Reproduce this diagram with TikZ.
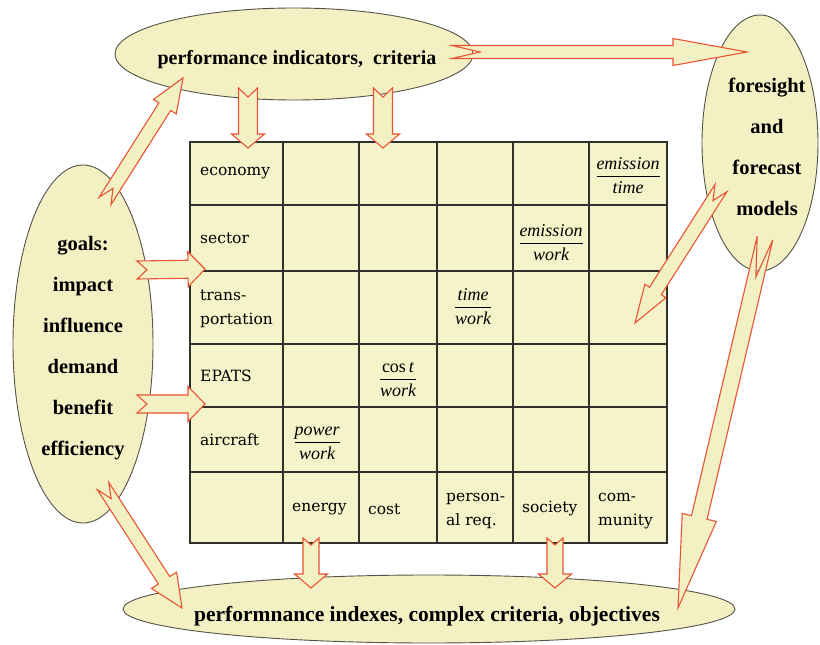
\documentclass[tikz,border=0pt]{standalone}
\usepackage{fontspec}
\setmainfont{Liberation Serif}[Ligatures=TeX]
\newfontfamily\gridfont{DejaVu Serif}
\usetikzlibrary{shapes.geometric,calc}
\definecolor{fillyel}{RGB}{243,241,196}
\definecolor{gridyel}{RGB}{245,243,202}
\definecolor{arrowred}{RGB}{232,84,52}
\definecolor{ellline}{RGB}{85,82,70}
\definecolor{gridline}{RGB}{50,48,42}
\tikzset{
  oval/.style={ellipse, draw=ellline, line width=0.9pt, fill=fillyel, inner sep=0pt},
  bigtext/.style={font=\fontsize{20}{41}\selectfont\rmfamily\bfseries, align=center, inner sep=0pt},
  celltext/.style={font=\gridfont\fontsize{15.5}{24}\selectfont, align=left, anchor=west, inner sep=0pt},
  fractext/.style={font=\fontsize{18}{24}\selectfont\rmfamily, inner sep=0pt},
  gridstroke/.style={draw=gridline, line width=1.3pt, line cap=rect},
  barrow/.style={draw=arrowred, line width=1.1pt, fill=fillyel, line join=miter},
}
% from, to, half shaft, half head, head length, notch depth
\newcommand\blockarrow[6]{%
  \coordinate (baq) at ($(#2)!#5!(#1)$);
  \draw[barrow] ($(#1)!#3!90:(#2)$) -- ($(baq)!#3!-90:(#1)$) -- ($(baq)!#4!-90:(#1)$)
    -- (#2) -- ($(baq)!#4!90:(#1)$) -- ($(baq)!#3!90:(#1)$) -- ($(#1)!#3!-90:(#2)$)
    -- ($(#1)!#6!(#2)$) -- cycle;}
\newcommand\fracx[2]{\begin{tabular}{@{}c@{}}\itshape #1\\[-1pt]\noalign{\hrule height 1.3pt}\itshape #2\end{tabular}}
\begin{document}
\begin{tikzpicture}[x=1pt,y=-1pt]
\useasboundingbox (0,0) rectangle (820,645);
\fill[white] (0,0) rectangle (820,645);
% ellipses
\node[oval, minimum width=358pt, minimum height=92pt] (top) at (294,54) {};
\node[oval, minimum width=116pt, minimum height=256pt] (right) at (760,143) {};
\node[oval, minimum width=140pt, minimum height=358pt] (left) at (83,344) {};
\node[oval, minimum width=612pt, minimum height=68pt] (bottom) at (429,609) {};
\node[bigtext] (toptxt) at (297,60) {performance indicators,\ \ criteria};
\node[bigtext, font=\fontsize{20.5}{41}\selectfont\bfseries] (righttxt) at (767,147) {foresight\\and\\forecast\\models};
\node[bigtext, font=\fontsize{20.5}{41}\selectfont\bfseries] (lefttxt) at (83,348) {goals:\\impact\\influence\\demand\\benefit\\efficiency};
\node[bigtext, font=\fontsize{21.5}{26}\selectfont\bfseries] (bottxt) at (427,616) {performnance indexes, complex criteria, objectives};
% grid
\fill[gridyel] (190,142) rectangle (667,543);
\foreach \x in {190,283,359,437,513,589,667} \draw[gridstroke] (\x,142) -- (\x,543);
\foreach \y in {142,205,271,344,407,472,543} \draw[gridstroke] (190,\y) -- (667,\y);
\node[celltext] (r0) at (200,173.5) {economy};
\node[celltext] (r1) at (200,238) {sector};
\node[celltext] (r2) at (200,309) {trans-\\portation};
\node[celltext] (r3) at (200,376) {EPATS};
\node[celltext] (r4) at (200,440) {aircraft};
\node[celltext] (c1) at (292,509) {energy};
\node[celltext] (c2) at (368,509) {cost};
\node[celltext] (c3) at (446,511) {person-\\al req.};
\node[celltext] (c4) at (522,509) {society};
\node[celltext] (c5) at (598,511) {com-\\munity};
\node[fractext] (f1) at (628,177) {\fracx{emission}{time}};
\node[fractext] (f2) at (551,244) {\fracx{emission}{work}};
\node[fractext] (f3) at (473,308) {\fracx{time}{work}};
\node[fractext] (f4) at (398,380) {\fracx{{\upshape cos}\,t}{work}};
\node[fractext] (f5) at (317,443) {\fracx{power}{work}};
% arrow end points
\coordinate (a1s) at (452,52);  \coordinate (a1e) at (747,52);
\coordinate (a2s) at (248,88);  \coordinate (a2e) at (248,148);
\coordinate (a3s) at (383,88);  \coordinate (a3e) at (383,148);
\coordinate (a4s) at (105,201); \coordinate (a4e) at (183,78);
\coordinate (a5s) at (137,270); \coordinate (a5e) at (205,269);
\coordinate (a6s) at (137,404); \coordinate (a6e) at (205,404);
\coordinate (a7s) at (103,486); \coordinate (a7e) at (182,608);
\coordinate (a8s) at (721,188); \coordinate (a8e) at (635,323);
\coordinate (a9s) at (765,238); \coordinate (a9e) at (678,608);
\coordinate (a10s) at (311,538); \coordinate (a10e) at (311,588);
\coordinate (a11s) at (555,538); \coordinate (a11e) at (555,588);
\blockarrow{a1s}{a1e}{6.5pt}{13.5pt}{74pt}{28pt}
\blockarrow{a2s}{a2e}{9.5pt}{16.5pt}{14pt}{9pt}
\blockarrow{a3s}{a3e}{9.5pt}{16.5pt}{14pt}{9pt}
\blockarrow{a4s}{a4e}{7pt}{13.5pt}{34pt}{15pt}
\blockarrow{a5s}{a5e}{9pt}{17.5pt}{17pt}{10pt}
\blockarrow{a6s}{a6e}{9pt}{17.5pt}{17pt}{10pt}
\blockarrow{a7s}{a7e}{6.8pt}{15pt}{33pt}{15pt}
\blockarrow{a8s}{a8e}{7pt}{12.5pt}{38pt}{15pt}
\blockarrow{a9s}{a9e}{8pt}{17.5pt}{93pt}{40pt}
\blockarrow{a10s}{a10e}{8pt}{16.5pt}{14pt}{7pt}
\blockarrow{a11s}{a11e}{8pt}{16.5pt}{14pt}{7pt}
\end{tikzpicture}
\end{document}
